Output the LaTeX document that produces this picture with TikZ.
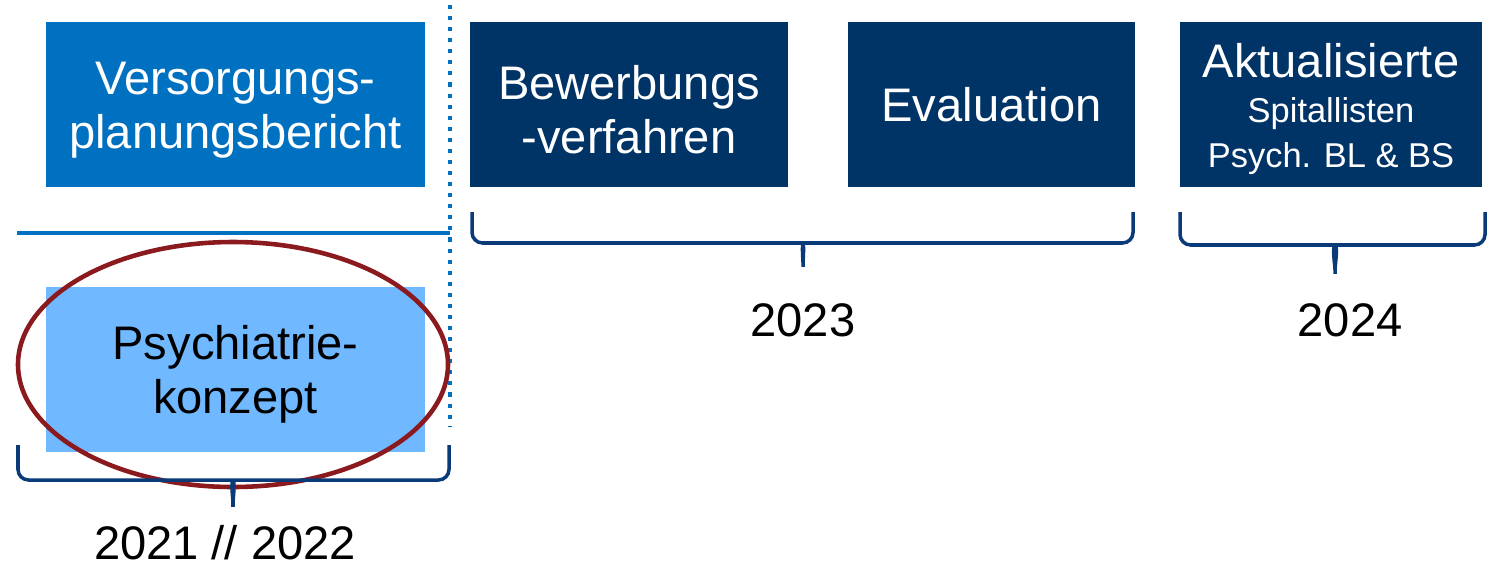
\documentclass[tikz,border=0pt]{standalone}
\usepackage{fontspec}
\setmainfont{Liberation Sans}
\usepackage{xcolor}
\usetikzlibrary{positioning}
\usetikzlibrary{shapes.geometric}

\definecolor{hellblau}{HTML}{0070C0}
\definecolor{dunkelblau}{HTML}{003366}
\definecolor{himmelblau}{HTML}{70B8FF}
\definecolor{weinrot}{HTML}{8B1A1F}
\definecolor{klammerblau}{HTML}{0A3A78}

% Zeilenhoehe fuer die erste Zeile (Text etwas tiefer setzen)
\newcommand{\oberkante}{\rule{0pt}{12.6pt}}

\begin{document}
\begin{tikzpicture}[
        phase/.style={rectangle, minimum height=1.65cm, align=center, inner sep=0pt,
            font=\fontsize{13.4}{15.4}\selectfont},
        jahr/.style={anchor=base, font=\fontsize{13.4}{16}\selectfont},
        klammer/.style={draw=klammerblau, line width=1pt, rounded corners=3pt}
    ]
    \useasboundingbox (0,0) rectangle (14.9,5.65);

    % -- Phasen --
    \node[phase, fill=hellblau, text=white, minimum width=3.79cm] (vpb) at (2.355,4.605)
        {\oberkante Versorgungs-\\planungsbericht};
    \node[phase, fill=himmelblau, text=black, minimum width=3.79cm] (psy) at (2.355,1.955)
        {\oberkante Psychiatrie-\\konzept};
    \node[phase, fill=dunkelblau, text=white, minimum width=3.18cm] (bew) at (6.29,4.605)
        {\oberkante Bewerbungs\\-verfahren};
    \node[phase, fill=dunkelblau, text=white, minimum width=2.87cm] (eva) at (9.915,4.605)
        {Evaluation};
    \node[phase, fill=dunkelblau, text=white, minimum width=3.02cm,
        font=\fontsize{9.8}{12.8}\selectfont] (akt) at (13.31,4.605)
        {\rule{0pt}{12pt}{\fontsize{13.4}{12.8}\selectfont Aktualisierte}\\Spitallisten\\Psych. BL \& BS};

    % -- Trennlinien --
    \coordinate (oben) at (4.5,5.6);
    \coordinate (unten) at (4.5,1.38);
    \coordinate (links) at (0.17,3.32);
    \coordinate (mitte) at (4.5,3.32);
    \draw[hellblau, line width=1.15pt, dash pattern=on 1.15pt off 2pt] (oben) -- (unten);
    \draw[hellblau, line width=1.1pt] (links) -- (mitte);

    % -- Markierung Psychiatriekonzept --
    \node[ellipse, draw=weinrot, line width=1.3pt, minimum width=4.3cm, minimum height=2.45cm,
        inner sep=0pt] (kreis) at (2.33,2.005) {};

    % -- Klammern --
    % 2021 // 2022 :
    \draw[klammer] (0.18,1.20) -- (0.18,0.85) -- (2.22,0.85)
        to[out=0, in=90] (2.33,0.52) to[out=90, in=180] (2.44,0.85) -- (4.49,0.85) -- (4.49,1.20);

    % 2023 :
    \draw[klammer] (4.72,3.53) -- (4.72,3.22) -- (7.92,3.22)
        to[out=0, in=90] (8.03,2.92) to[out=90, in=180] (8.14,3.22) -- (11.33,3.22) -- (11.33,3.53);

    % 2024 :
    \draw[klammer] (11.80,3.53) -- (11.80,3.20) -- (13.24,3.20)
        to[out=0, in=90] (13.35,2.85) to[out=90, in=180] (13.46,3.20) -- (14.85,3.20) -- (14.85,3.53);

    % -- Jahre --
    \node[jahr] (j1) at (2.25,0.06) {2021 // 2022};
    \node[jahr] (j2) at (8.03,2.29) {2023};
    \node[jahr] (j3) at (13.5,2.29) {2024};

\end{tikzpicture}
\end{document}
